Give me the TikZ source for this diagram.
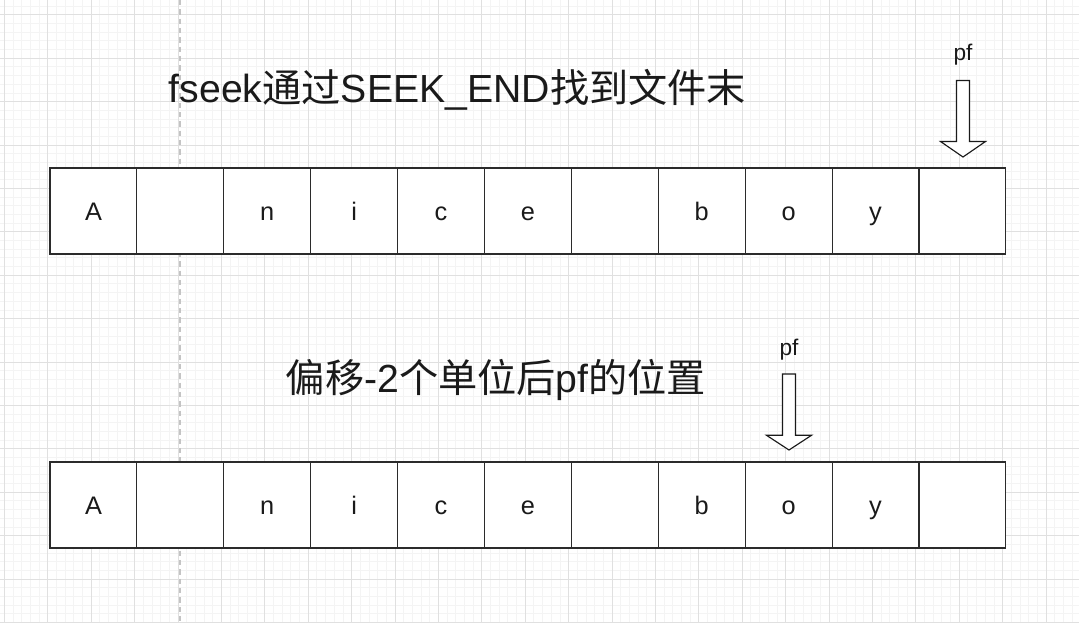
\documentclass[tikz,border=0pt]{standalone}
\usepackage{fontspec}
\setmainfont{Liberation Sans}
\newfontfamily\cjk{Noto Sans CJK SC}
\definecolor{gridminor}{HTML}{F4F4F4}
\definecolor{gridmajor}{HTML}{E0E0E0}
\definecolor{pageline}{HTML}{C4C4C4}
\definecolor{ink}{HTML}{1A1A1A}
\definecolor{border}{HTML}{2B2B2B}
\begin{document}
\begin{tikzpicture}[x=0.75pt,y=-0.75pt,
  minorgrid/.style={draw=gridminor, line width=0.75pt},
  majorgrid/.style={draw=gridmajor, line width=0.75pt},
  cell/.style={draw=border, line width=0.85pt, fill=white, minimum width=65.175pt,
    minimum height=64.5pt, inner sep=0pt, text height=14.5pt, text depth=0pt,
    text=ink, font=\fontsize{19}{19}\selectfont},
  title/.style={text=ink, inner sep=0pt, font=\fontsize{29.4}{31}\selectfont},
  pflabel/.style={text=ink, inner sep=0pt, font=\fontsize{17}{18}\selectfont},
  blockarrow/.style={draw=ink, line width=0.85pt, fill=white, line join=miter}]
\path[fill=white] (0,0) rectangle (1079,623);
\useasboundingbox (0,0) rectangle (1079,623);
% grid
\begin{scope}
\clip (0,0) rectangle (1079,623);
\foreach \i in {0,...,125} {
  \draw[minorgrid] ({4.5+8.68*\i},0) -- ++(0,623);
}
\foreach \j in {-2,...,72} {
  \draw[minorgrid] (0,{14.9+8.68*\j}) -- ++(1079,0);
}
\foreach \i in {0,...,25} {
  \draw[majorgrid] ({4.5+43.4*\i},0) -- ++(0,623);
}
\foreach \j in {0,...,14} {
  \draw[majorgrid] (0,{14.9+43.4*\j}) -- ++(1079,0);
}
\draw[pageline, line width=0.9pt, dash pattern=on 4pt off 3pt] (180,0) -- (180,623);
\end{scope}
% titles
\node[title] (t1) at (457.5,90) {fseek{\cjk 通过}SEEK\_END{\cjk 找到文件末}};
\node[title] (t2) at (496,380) {{\cjk 偏移}-2{\cjk 个单位后}pf{\cjk 的位置}};
% cells
\foreach \t [count=\i from 0] in {A,{},n,i,c,e,{},b,o,y,{}} {
  \node[cell] (ra\i) at ({50+86.9*(\i+0.5)},211) {\t};
  \node[cell] (rb\i) at ({50+86.9*(\i+0.5)},505) {\t};
}
% pf labels and arrows
\node[pflabel] (pf1) at (963,55) {pf};
\draw[blockarrow] (956.5,80.5) -- (969.5,80.5) -- (969.5,141.5) -- (985.5,141.5)
  -- (963,157) -- (940.5,141.5) -- (956.5,141.5) -- cycle;
\node[pflabel] (pf2) at (789,350) {pf};
\draw[blockarrow] (782.5,374) -- (795.5,374) -- (795.5,435.3) -- (811.5,435.3)
  -- (789,450) -- (766.5,435.3) -- (782.5,435.3) -- cycle;
\end{tikzpicture}
\end{document}
